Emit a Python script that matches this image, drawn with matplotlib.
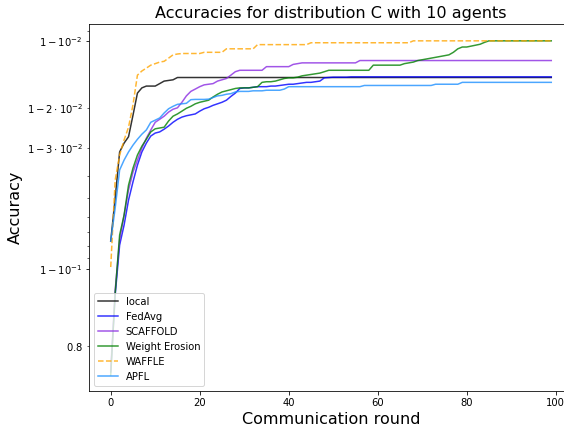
import matplotlib
matplotlib.use("Agg")
import matplotlib.pyplot as plt

# accuracy per communication round (0..99)
local = [0.9238, 0.9501, 0.9687, 0.9714, 0.9732, 0.9785, 0.9829, 0.9838, 0.9841, 0.9841,
         0.9841, 0.9845, 0.9849, 0.9850, 0.9851, 0.98545, 0.98545, 0.98545, 0.98545, 0.98545,
         0.98545, 0.98545, 0.98545, 0.98545, 0.98545, 0.98545, 0.98545, 0.98545, 0.98545, 0.98545,
         0.98545, 0.98545, 0.98545, 0.98545, 0.98545, 0.98545, 0.98545, 0.98545, 0.98545, 0.98545,
         0.98545, 0.98545, 0.98545, 0.98545, 0.98545, 0.98545, 0.98545, 0.98545, 0.98545, 0.98545,
         0.98545, 0.98545, 0.98545, 0.98545, 0.98545, 0.98545, 0.98545, 0.98545, 0.98545, 0.98545,
         0.98545, 0.98545, 0.98545, 0.98545, 0.98545, 0.98545, 0.98545, 0.98545, 0.98545, 0.98545,
         0.98545, 0.98545, 0.98545, 0.98545, 0.98545, 0.98545, 0.98545, 0.98545, 0.98545, 0.98545,
         0.98545, 0.98545, 0.98545, 0.98545, 0.98545, 0.98545, 0.98545, 0.98545, 0.98545, 0.98545,
         0.98545, 0.98545, 0.98545, 0.98545, 0.98545, 0.98545, 0.98545, 0.98545, 0.98545, 0.98545]

fedavg = [0.7537, 0.8729, 0.9208, 0.9348, 0.9491, 0.9576, 0.9642, 0.9687, 0.9714, 0.9734,
          0.9742, 0.9745, 0.9752, 0.9760, 0.9769, 0.9776, 0.9781, 0.9784, 0.9786, 0.9788,
          0.9794, 0.9799, 0.9802, 0.9806, 0.9809, 0.9812, 0.9816, 0.9823, 0.9829, 0.9837,
          0.9838, 0.9838, 0.9839, 0.9840, 0.9840, 0.9840, 0.9841, 0.9841, 0.9842, 0.9843,
          0.9844, 0.9844, 0.9845, 0.9846, 0.9847, 0.9847, 0.9848, 0.9849, 0.9854, 0.98545,
          0.9855, 0.9855, 0.9855, 0.9855, 0.98555, 0.98555, 0.98555, 0.98555, 0.98555, 0.98555,
          0.98555, 0.98555, 0.98555, 0.98555, 0.98555, 0.98555, 0.98555, 0.98555, 0.98555, 0.98555,
          0.98555, 0.98555, 0.98555, 0.98555, 0.98555, 0.98555, 0.98555, 0.98555, 0.98555, 0.98555,
          0.98555, 0.98555, 0.98555, 0.98555, 0.98555, 0.98555, 0.98555, 0.98555, 0.98555, 0.98555,
          0.98555, 0.98555, 0.98555, 0.98555, 0.98555, 0.98555, 0.98555, 0.98555, 0.98555, 0.98555]

scaffold = [0.7574, 0.8787, 0.9246, 0.9409, 0.9540, 0.9616, 0.9660, 0.9699, 0.9728, 0.9750,
            0.9769, 0.9776, 0.9783, 0.9792, 0.9798, 0.9801, 0.9812, 0.9824, 0.9832, 0.9836,
            0.9840, 0.9843, 0.9844, 0.9845, 0.9849, 0.9851, 0.9853, 0.9858, 0.9863, 0.9865,
            0.9865, 0.9865, 0.9865, 0.9865, 0.9865, 0.9870, 0.9870, 0.9870, 0.9870, 0.9870,
            0.9870, 0.9873, 0.9874, 0.9875, 0.9875, 0.9875, 0.9875, 0.9875, 0.9875, 0.9875,
            0.9875, 0.9875, 0.9875, 0.9875, 0.9875, 0.9875, 0.9878, 0.9878, 0.9878, 0.9878,
            0.9878, 0.9878, 0.9878, 0.9878, 0.9878, 0.9878, 0.9878, 0.9878, 0.9878, 0.9878,
            0.9878, 0.9878, 0.9878, 0.9878, 0.9878, 0.9878, 0.9878, 0.9878, 0.9878, 0.9878,
            0.9878, 0.9878, 0.9878, 0.9878, 0.9878, 0.9878, 0.9878, 0.9878, 0.9878, 0.9878,
            0.9878, 0.9878, 0.9878, 0.9878, 0.9878, 0.9878, 0.9878, 0.9878, 0.9878, 0.9878]

weight_erosion = [0.7476, 0.8752, 0.9282, 0.9409, 0.9562, 0.9631, 0.9677, 0.9705, 0.9725, 0.9745,
                  0.9753, 0.9755, 0.9757, 0.9772, 0.9783, 0.9788, 0.9794, 0.9800, 0.9804, 0.9809,
                  0.9812, 0.9814, 0.9816, 0.9822, 0.9827, 0.9831, 0.9833, 0.9835, 0.9837, 0.9838,
                  0.9838, 0.9838, 0.9839, 0.9840, 0.9847, 0.9848, 0.9848, 0.9849, 0.9851, 0.9853,
                  0.9854, 0.9854, 0.9855, 0.9857, 0.9858, 0.9859, 0.9860, 0.9861, 0.9863, 0.9865,
                  0.9865, 0.9865, 0.9865, 0.9865, 0.9865, 0.9865, 0.9865, 0.9865, 0.9865, 0.9872,
                  0.9872, 0.9872, 0.9872, 0.9872, 0.9872, 0.9872, 0.9874, 0.9875, 0.9876, 0.9878,
                  0.9879, 0.9880, 0.9881, 0.9882, 0.9883, 0.9884, 0.9885, 0.9888, 0.9892, 0.9894,
                  0.9894, 0.9895, 0.9896, 0.9897, 0.9899, 0.99006, 0.99006, 0.99006, 0.99006, 0.99006,
                  0.99006, 0.99006, 0.99006, 0.99006, 0.99006, 0.99006, 0.99006, 0.99006, 0.99006, 0.99006]

waffle = [0.9022, 0.9584, 0.9677, 0.9723, 0.9757, 0.9807, 0.9858, 0.9864, 0.9868, 0.9872,
          0.9874, 0.9876, 0.9877, 0.9881, 0.9885, 0.9886, 0.98866, 0.98866, 0.98866, 0.98866,
          0.98866, 0.9888, 0.9888, 0.9888, 0.9888, 0.9888, 0.9892, 0.9892, 0.9892, 0.9892,
          0.9892, 0.9892, 0.9892, 0.98966, 0.98966, 0.98966, 0.98966, 0.98966, 0.98966, 0.98966,
          0.98966, 0.98966, 0.98966, 0.98966, 0.98966, 0.98986, 0.98986, 0.98986, 0.98986, 0.98986,
          0.98986, 0.98986, 0.98986, 0.98986, 0.98986, 0.98986, 0.98986, 0.98986, 0.98986, 0.98986,
          0.98986, 0.98986, 0.98986, 0.98986, 0.98986, 0.98986, 0.98986, 0.98986, 0.99006, 0.99006,
          0.99006, 0.99006, 0.99006, 0.99006, 0.99006, 0.99006, 0.99006, 0.99006, 0.99006, 0.99006,
          0.99006, 0.99006, 0.99006, 0.99006, 0.99006, 0.99006, 0.99006, 0.99006, 0.99006, 0.99006,
          0.99006, 0.99006, 0.99006, 0.99006, 0.99006, 0.99006, 0.99006, 0.99006, 0.99006, 0.99006]

apfl = [0.9238, 0.9449, 0.9624, 0.9660, 0.9687, 0.9708, 0.9725, 0.9739, 0.9750, 0.9769,
        0.9774, 0.9779, 0.9790, 0.9799, 0.9804, 0.9808, 0.9809, 0.9810, 0.9817, 0.98175,
        0.98175, 0.98175, 0.9818, 0.9821, 0.9824, 0.9825, 0.9827, 0.9828, 0.9831, 0.9832,
        0.9832, 0.9832, 0.9833, 0.9833, 0.9833, 0.9834, 0.9834, 0.9834, 0.9834, 0.9836,
        0.9840, 0.9840, 0.9840, 0.9840, 0.9840, 0.9840, 0.9840, 0.9840, 0.9840, 0.9840,
        0.9840, 0.9840, 0.9840, 0.9840, 0.9840, 0.9840, 0.9840, 0.9842, 0.9842, 0.9842,
        0.9842, 0.9842, 0.9842, 0.9842, 0.9842, 0.9842, 0.9842, 0.9842, 0.9842, 0.9842,
        0.9842, 0.9842, 0.9842, 0.9844, 0.9844, 0.9844, 0.9844, 0.9844, 0.9844, 0.9847,
        0.9847, 0.9847, 0.9847, 0.9847, 0.9847, 0.9847, 0.9847, 0.9847, 0.9847, 0.9847,
        0.9847, 0.9847, 0.9847, 0.9847, 0.9847, 0.9847, 0.9847, 0.9847, 0.9847, 0.9847]

rounds = list(range(len(local)))

W, H = 564, 427
fig = plt.figure(figsize=(W / 72, H / 72), dpi=72)
# axes a bit wider than the picture: the right edge is cut off in the reference
ax = fig.add_axes([88.7 / W, 1 - 390.7 / H, 484.6 / W, 366.7 / H])

ax.plot(rounds, local, color='black', alpha=0.8, label='local')
ax.plot(rounds, fedavg, color='blue', alpha=0.8, label='FedAvg')
ax.plot(rounds, scaffold, color='blueviolet', alpha=0.8, label='SCAFFOLD')
ax.plot(rounds, weight_erosion, color='green', alpha=0.8, label='Weight Erosion')
ax.plot(rounds, waffle, color='orange', alpha=0.8, linestyle='--', label='WAFFLE')
ax.plot(rounds, apfl, color='dodgerblue', alpha=0.8, label='APFL')

ax.set_yscale('logit')
ax.set_ylim(0.7153, 0.99166)
ax.set_xlim(-4.95, 103.95)
ax.spines['right'].set_visible(False)

ax.set_title('Accuracies for distribution C with 10 agents', fontsize=16)
ax.set_xlabel('Communication round', fontsize=16)
ax.set_ylabel('Accuracy', fontsize=16)
ax.legend(loc='lower left')

fig.savefig('out.png', dpi=72)
